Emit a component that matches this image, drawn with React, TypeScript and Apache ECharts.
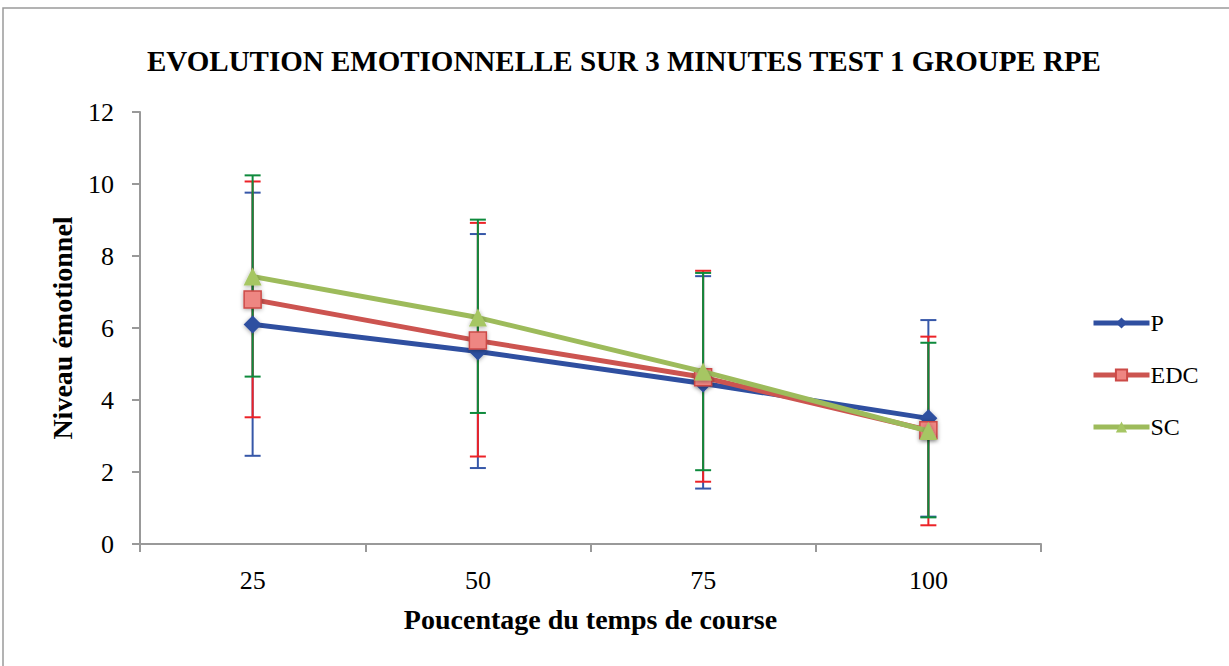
import React, { useEffect, useRef } from "react";
import * as echarts from "echarts";

const categories = ["25", "50", "75", "100"];
const pValues = [6.1, 5.35, 4.46, 3.49];
const edcValues = [6.79, 5.65, 4.63, 3.16];
const scValues = [7.43, 6.29, 4.79, 3.14];

const pLow = [2.45, 2.11, 1.54, 0.76];
const pHigh = [9.76, 8.61, 7.44, 6.22];
const edcLow = [3.52, 2.43, 1.73, 0.52];
const edcHigh = [10.07, 8.92, 7.59, 5.76];
const scLow = [4.65, 3.64, 2.05, 0.74];
const scHigh = [10.24, 9.01, 7.53, 5.59];

const FONT = "'Liberation Serif', 'DejaVu Serif', serif";

function errorSeries(name: string, low: number[], high: number[], color: string, z: number) {
  return {
    type: "custom",
    name: name + "_err",
    z,
    silent: true,
    data: categories.map((_, i) => [i, low[i], high[i]]),
    renderItem: (params: any, api: any) => {
      const x = api.value(0);
      const lo = api.coord([x, api.value(1)]);
      const hi = api.coord([x, api.value(2)]);
      const cap = 8;
      const style = { stroke: color, lineWidth: 2 };
      return {
        type: "group",
        children: [
          { type: "line", shape: { x1: lo[0], y1: lo[1], x2: hi[0], y2: hi[1] }, style },
          { type: "line", shape: { x1: lo[0] - cap, y1: lo[1], x2: lo[0] + cap, y2: lo[1] }, style },
          { type: "line", shape: { x1: hi[0] - cap, y1: hi[1], x2: hi[0] + cap, y2: hi[1] }, style },
        ],
      };
    },
  };
}

export default function App() {
  const ref = useRef<HTMLDivElement>(null);
  useEffect(() => {
    if (!ref.current) return;
    const chart = echarts.init(ref.current, null, { renderer: "svg" });
    const shadow = { shadowBlur: 4, shadowColor: "rgba(0,0,0,0.35)", shadowOffsetY: 1 };
    chart.setOption({
      animation: false,
      backgroundColor: "#ffffff",
      title: {
        text: "EVOLUTION EMOTIONNELLE SUR 3 MINUTES TEST 1 GROUPE RPE",
        left: 619,
        textAlign: "center",
        top: 41,
        textStyle: { fontFamily: FONT, fontWeight: "bold", fontSize: 29, color: "#000" },
      },
      graphic: [
        {
          type: "rect",
          shape: { x: 3, y: 8, width: 1240, height: 700 },
          style: { fill: "none", stroke: "#9a9a9a", lineWidth: 1.5 },
          silent: true,
        },
      ],
      legend: {
        orient: "vertical",
        left: 1086,
        top: 306,
        itemWidth: 56,
        itemHeight: 14,
        itemGap: 28,
        data: ["P", "EDC", "SC"],
        lineStyle: { width: 5 },
        textStyle: { fontFamily: FONT, fontSize: 24, color: "#000", padding: [0, 0, 0, -4] },
      },
      grid: { left: 140, right: 188, top: 112, bottom: 122, containLabel: false },
      xAxis: {
        type: "category",
        data: categories,
        boundaryGap: true,
        name: "Poucentage du temps de course",
        nameLocation: "middle",
        nameGap: 61,
        nameTextStyle: { fontFamily: FONT, fontWeight: "bold", fontSize: 28, color: "#000" },
        axisLine: { lineStyle: { color: "#999", width: 2 } },
        axisTick: { show: true, length: 8, lineStyle: { color: "#999", width: 2 } },
        axisLabel: { fontFamily: FONT, fontSize: 26, color: "#000", margin: 23 },
      },
      yAxis: {
        type: "value",
        min: 0,
        max: 12,
        interval: 2,
        name: "Niveau émotionnel",
        nameLocation: "middle",
        nameGap: 64,
        nameTextStyle: { fontFamily: FONT, fontWeight: "bold", fontSize: 28, color: "#000" },
        axisLine: { show: true, lineStyle: { color: "#999", width: 2 } },
        axisTick: { show: true, length: 8, lineStyle: { color: "#999", width: 2 } },
        splitLine: { show: false },
        axisLabel: { fontFamily: FONT, fontSize: 26, color: "#000", margin: 26 },
      },
      series: [
        errorSeries("P", pLow, pHigh, "#3657A8", 1),
        errorSeries("EDC", edcLow, edcHigh, "#EC2227", 2),
        errorSeries("SC", scLow, scHigh, "#0E8A3C", 3),
        {
          name: "P",
          type: "line",
          z: 5,
          data: pValues,
          symbol: "diamond",
          symbolSize: 18,
          lineStyle: { color: "#2F4FA0", width: 5 },
          itemStyle: { color: "#2F4FA0", ...shadow },
        },
        {
          name: "EDC",
          type: "line",
          z: 6,
          data: edcValues,
          symbol: "rect",
          symbolSize: 17,
          lineStyle: { color: "#CC5450", width: 5 },
          itemStyle: { color: "#EE8682", borderColor: "#CC4A47", borderWidth: 1.5, ...shadow },
        },
        {
          name: "SC",
          type: "line",
          z: 7,
          data: scValues,
          symbol: "triangle",
          symbolSize: 18,
          lineStyle: { color: "#9DBB5B", width: 5 },
          itemStyle: { color: "#A6C664", ...shadow },
        },
      ],
    });
    return () => chart.dispose();
  }, []);
  return (
    <div
      ref={ref}
      style={{ position: "fixed", left: 0, top: 0, width: 1229, height: 666 }}
    />
  );
}
